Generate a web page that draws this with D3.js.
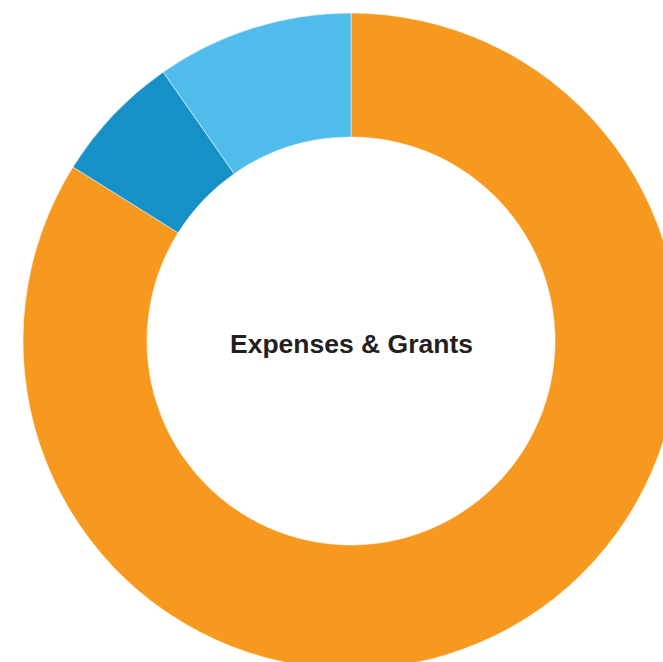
<!DOCTYPE html>
<html>
<head>
<meta charset="utf-8">
<script src="https://cdn.jsdelivr.net/npm/d3@7"></script>
<style>
  html, body { margin: 0; padding: 0; background: #fff; overflow: hidden; }
  svg { display: block; }
</style>
</head>
<body>
<svg id="chart" width="663" height="662"></svg>
<script>
const categories = ["Program Expenses & Grants", "Management & General", "Fundraising"];
const values = [83.9, 6.4, 9.7];
const colors = ["#F7991F", "#1591C8", "#50BCEB"];
const centerLabel = "Expenses & Grants";

const svg = d3.select("#chart");
const cx = 351, cy = 341, outerR = 328, innerR = 204;

const data = categories.map((c, i) => ({ category: c, value: values[i] }));
const color = d3.scaleOrdinal().domain(categories).range(colors);

const pie = d3.pie().value(d => d.value).sort(null);
const arc = d3.arc().innerRadius(innerR).outerRadius(outerR);

const g = svg.append("g").attr("transform", `translate(${cx},${cy})`);
g.selectAll("path")
  .data(pie(data))
  .join("path")
  .attr("d", arc)
  .attr("fill", d => color(d.data.category))
  .attr("stroke", "#fff")
  .attr("stroke-width", 0.5);

g.append("text")
  .attr("x", 0.5)
  .attr("y", 4.5)
  .attr("text-anchor", "middle")
  .attr("dominant-baseline", "middle")
  .attr("font-family", "'Liberation Sans', Arial, Helvetica, sans-serif")
  .attr("font-weight", "bold")
  .attr("font-size", 26.5)
  .attr("fill", "#231F20")
  .text(centerLabel);
</script>
</body>
</html>
